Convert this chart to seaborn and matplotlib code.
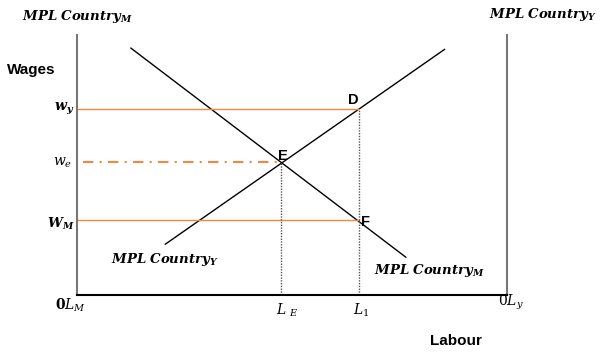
import numpy as np
import pandas as pd
import matplotlib
matplotlib.use("Agg")
import matplotlib.pyplot as plt
import seaborn as sns

# curve end points (labour, wage)
mpl_m_x = [1.25, 7.65]
mpl_m_y = [9.5, 1.45]
mpl_y_x = [2.05, 8.55]
mpl_y_y = [1.95, 9.45]

# wage levels and labour points
w_y = 7.15
w_e = 5.1
w_m = 2.9
l_e = 4.75
l_1 = 6.55

orange = "#F0883E"

sns.set_theme(style="white")
plt.rcParams["mathtext.fontset"] = "dejavuserif"
plt.rcParams["text.color"] = "black"

fig = plt.figure(figsize=(6, 3.54), dpi=100)
ax = fig.add_axes([77 / 600, 59 / 354, 430 / 600, 260 / 354])

df = pd.DataFrame({
    "x": mpl_m_x + mpl_y_x,
    "y": mpl_m_y + mpl_y_y,
    "curve": ["M", "M", "Y", "Y"],
})
sns.lineplot(data=df, x="x", y="y", hue="curve", palette=["black", "black"],
             linewidth=1, legend=False, ax=ax)

ax.plot([0, l_1], [w_y, w_y], color=orange, lw=1)
ax.plot([0, l_1], [w_m, w_m], color=orange, lw=1)
ax.plot([0.14, l_e], [w_e, w_e], color=orange, lw=1.5, ls=(0, (5, 3, 1, 3)))
ax.plot([l_e, l_e], [0, w_e], color="#555555", lw=1, ls=(0, (1, 1)))
ax.plot([l_1, l_1], [0, w_y], color="#555555", lw=1, ls=(0, (1, 1)))

ax.set_xlim(0, 10)
ax.set_ylim(0, 10)
ax.set_xticks([])
ax.set_yticks([])
ax.set_xlabel("")
ax.set_ylabel("")
ax.spines["top"].set_visible(False)
ax.spines["left"].set_color("#777777")
ax.spines["right"].set_color("#777777")
ax.spines["bottom"].set_color("black")
for s in ["left", "right", "bottom"]:
    ax.spines[s].set_linewidth(1.5)

kw = dict(clip_on=False, va="center", color="black")
ax.text(0.0, 10.7, r"$\mathbfit{MPL\ Country}_{\mathbfit{M}}$", ha="center", fontsize=9.5, **kw)
ax.text(10.84, 10.8, r"$\mathbfit{MPL\ Country}_{\mathbfit{Y}}$", ha="center", fontsize=9.5, **kw)
ax.text(2.05, 1.35, r"$\mathbfit{MPL\ Country}_{\mathbfit{Y}}$", ha="center", fontsize=9.5, **kw)
ax.text(8.19, 0.96, r"$\mathbfit{MPL\ Country}_{\mathbfit{M}}$", ha="center", fontsize=9.5, **kw)

ax.text(-1.63, 8.65, "Wages", ha="left", fontsize=11, fontweight="bold",
        family="Liberation Sans", **kw)
ax.text(8.81, -1.77, "Labour", ha="center", fontsize=11, fontweight="bold",
        family="Liberation Sans", **kw)

ax.text(-0.07, w_y, r"$\mathbfit{w}_{\mathbfit{y}}$", ha="right", fontsize=10, **kw)
ax.text(-0.1, w_e, r"$w_e$", ha="right", fontsize=10, **kw)
ax.text(-0.07, 2.75, r"$\mathbfit{W}_{\mathbfit{M}}$", ha="right", fontsize=9.5, **kw)

for lab, x, y in [("D", 6.42, 7.5), ("E", 4.79, 5.35), ("F", 6.72, 2.8)]:
    ax.text(x, y, lab, ha="center", fontsize=10.5, fontweight="bold",
            family="Liberation Sans", **kw)

ax.text(-0.14, -0.38, r"$\mathbf{0}L_M$", ha="center", fontsize=10, **kw)
ax.text(4.9, -0.58, r"$L\ _E$", ha="center", fontsize=10, **kw)
ax.text(6.6, -0.58, r"$L_1$", ha="center", fontsize=10, **kw)
ax.text(10.1, -0.3, r"$0L_y$", ha="center", fontsize=10, **kw)

fig.savefig("out.png", dpi=100)
